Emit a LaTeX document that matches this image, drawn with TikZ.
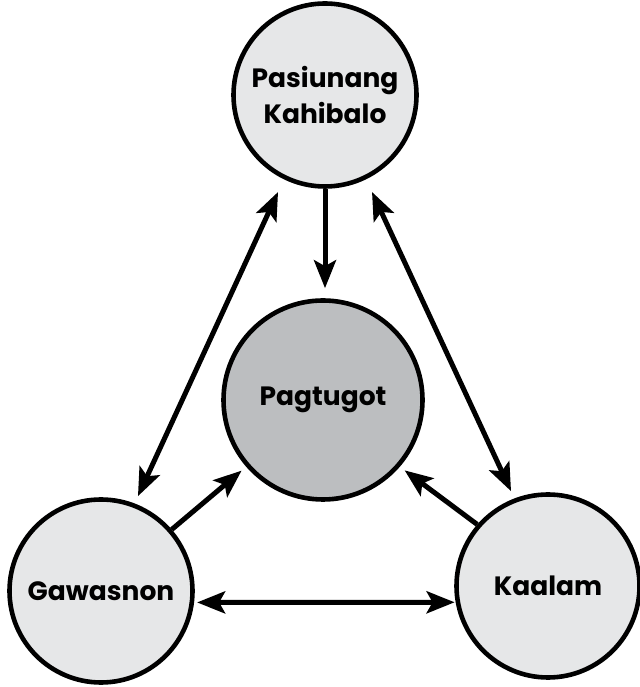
\documentclass[tikz,border=0pt]{standalone}
\usepackage{fontspec}
\setmainfont{Poppins}
\usepackage{xcolor}
\usetikzlibrary{arrows.meta}
\usetikzlibrary{positioning}
\definecolor{lite}{HTML}{E6E7E8}
\definecolor{mid}{HTML}{BCBEC0}

\begin{document}
\begin{tikzpicture}[x=1pt,y=1pt,>={Stealth[length=28pt,width=22pt,inset=6pt]},line width=5pt]
	\tikzstyle{vert}=[draw, circle, line width=4.6pt, minimum size=183pt, inner sep=0pt, fill=lite, align=center, font=\fontsize{26.5}{36}\selectfont\bfseries]
	\useasboundingbox (0,0) rectangle (639,687);
		\node[vert, minimum size=199pt, fill=mid] (P) at (323,287) {Pagtugot};
		\node[vert]		(T) at (325,592) {Pasiunang\\Kahibalo};
		\node[vert]		(G) at (101,96) {Gawasnon};
		\node[vert]		(K) at (548,101) {Kaalam};
		\path
			(T.south) edge[->, shorten >=10pt] (T.south |- P.north)
			(T.244) edge[<->, shorten <=14pt, shorten >=8pt] (G.69)
			(T.296) edge[<->, shorten <=14pt, shorten >=8pt] (K.111)
			(G.41) edge[->, shorten >=6pt] (P.221)
			(K.139) edge[->, shorten >=6pt] (P.319)
			(G.-7) edge[<->, shorten <=3pt, shorten >=1pt] (K.190);
\end{tikzpicture}
\end{document}
